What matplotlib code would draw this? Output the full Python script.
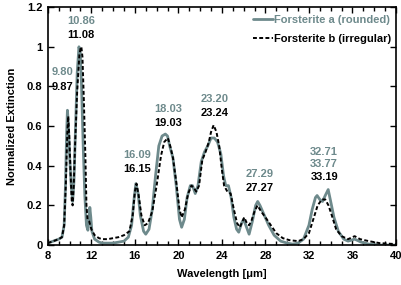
import matplotlib
matplotlib.use("Agg")
import matplotlib.pyplot as plt
from matplotlib.ticker import MultipleLocator

# Forsterite a (rounded)
wl_a = [8.0, 8.5, 9.0, 9.3, 9.5, 9.62, 9.72, 9.8, 9.88, 10.0, 10.15, 10.28, 10.4, 10.55, 10.7, 10.86,
        10.98, 11.1, 11.25, 11.4, 11.55, 11.68, 11.78, 11.86, 11.95, 12.05, 12.3, 12.7, 13.0, 14.0,
        14.5, 15.0, 15.4, 15.7, 15.9, 16.09, 16.3, 16.5, 16.8, 17.0, 17.3, 17.6, 17.9, 18.2, 18.5,
        18.8, 19.0, 19.2, 19.5, 19.8, 20.1, 20.3, 20.55, 20.8, 21.1, 21.3, 21.55, 21.8, 22.1, 22.4,
        22.7, 23.0, 23.3, 23.6, 23.9, 24.15, 24.35, 24.6, 24.85, 25.1, 25.35, 25.55, 25.8, 26.0,
        26.2, 26.5, 26.8, 27.1, 27.29, 27.5, 27.9, 28.3, 28.8, 29.4, 30.0, 30.5, 31.0, 31.5, 32.0,
        32.3, 32.6, 32.75, 33.0, 33.25, 33.5, 33.77, 34.0, 34.3, 34.7, 35.2, 35.6, 36.2, 36.8, 37.5,
        38.5, 40.0]
ext_a = [0.01, 0.02, 0.03, 0.04, 0.1, 0.3, 0.55, 0.68, 0.62, 0.45, 0.3, 0.22, 0.32, 0.6, 0.87, 1.0,
         0.97, 0.8, 0.5, 0.25, 0.1, 0.075, 0.12, 0.19, 0.14, 0.07, 0.03, 0.015, 0.01, 0.01,
         0.015, 0.02, 0.04, 0.1, 0.22, 0.31, 0.26, 0.15, 0.07, 0.055, 0.08, 0.18, 0.35, 0.5, 0.55,
         0.56, 0.55, 0.5, 0.44, 0.3, 0.13, 0.09, 0.13, 0.24, 0.3, 0.3, 0.26, 0.3, 0.42, 0.47,
         0.5, 0.54, 0.54, 0.52, 0.46, 0.35, 0.3, 0.3, 0.24, 0.14, 0.08, 0.065, 0.11, 0.13,
         0.1, 0.055, 0.12, 0.2, 0.22, 0.2, 0.15, 0.1, 0.05, 0.02, 0.01, 0.005, 0.01, 0.03, 0.1,
         0.18, 0.24, 0.25, 0.23, 0.22, 0.25, 0.28, 0.22, 0.14, 0.07, 0.03, 0.02, 0.03, 0.015, 0.005,
         0.0, 0.0]

# Forsterite b (irregular)
wl_b = [8.0, 8.5, 9.0, 9.3, 9.5, 9.65, 9.78, 9.87, 9.97, 10.1, 10.2, 10.28, 10.38, 10.5, 10.7, 10.9,
        11.0, 11.08, 11.18, 11.3, 11.45, 11.55, 11.65, 11.8, 12.0, 12.3, 12.7, 13.0, 13.5, 14.0,
        14.5, 15.0, 15.5, 15.8, 16.0, 16.15, 16.35, 16.6, 16.9, 17.2, 17.6, 18.0, 18.4, 18.7, 19.03,
        19.25, 19.5, 19.8, 20.1, 20.3, 20.6, 20.9, 21.2, 21.4, 21.65, 21.9, 22.2, 22.5, 22.8, 23.0,
        23.24, 23.5, 23.75, 24.0, 24.2, 24.5, 24.8, 25.1, 25.4, 25.65, 25.9, 26.05, 26.3, 26.5,
        26.7, 27.0, 27.27, 27.6, 28.0, 28.5, 29.0, 29.6, 30.2, 31.0, 31.5, 32.0, 32.4, 32.8, 33.19,
        33.5, 33.8, 34.1, 34.5, 35.0, 35.6, 36.2, 36.7, 37.5, 38.5, 40.0]
ext_b = [0.01, 0.02, 0.03, 0.04, 0.1, 0.3, 0.55, 0.65, 0.55, 0.35, 0.22, 0.2, 0.3, 0.5, 0.78, 0.96,
         0.99, 1.0, 0.95, 0.75, 0.45, 0.2, 0.13, 0.12, 0.08, 0.05, 0.035, 0.03, 0.03, 0.035,
         0.04, 0.05, 0.07, 0.15, 0.27, 0.31, 0.25, 0.15, 0.1, 0.11, 0.17, 0.3, 0.45, 0.52, 0.54,
         0.5, 0.44, 0.32, 0.18, 0.14, 0.18, 0.26, 0.3, 0.29, 0.27, 0.3, 0.43, 0.47, 0.52, 0.57,
         0.605, 0.57, 0.5, 0.38, 0.3, 0.27, 0.26, 0.18, 0.11, 0.09, 0.12, 0.14, 0.11, 0.1,
         0.12, 0.17, 0.2, 0.17, 0.14, 0.1, 0.06, 0.035, 0.025, 0.02, 0.03, 0.06, 0.13, 0.2, 0.23,
         0.23, 0.2, 0.15, 0.08, 0.045, 0.03, 0.045, 0.03, 0.02, 0.01, 0.005]

# peak annotations
peak_x = [11.04, 11.04, 9.38, 9.38, 19.04, 19.04, 23.36, 23.36, 16.19, 16.19, 27.46, 27.46, 33.4, 33.4, 33.4]
peak_y = [1.13, 1.058, 0.872, 0.797, 0.686, 0.615, 0.737, 0.666, 0.454, 0.383, 0.358, 0.287, 0.47, 0.408, 0.343]
peak_txt = ["10.86", "11.08", "9.80", "9.87", "18.03", "19.03", "23.20", "23.24", "16.09", "16.15",
            "27.29", "27.27", "32.71", "33.77", "33.19"]
peak_ser = ["a", "b", "a", "b", "a", "b", "a", "b", "a", "b", "a", "b", "a", "a", "b"]

xticks = [8, 12, 16, 20, 24, 28, 32, 36, 40]
yticks = [0, 0.2, 0.4, 0.6, 0.8, 1.0, 1.2]
ytick_labels = ["0", "0.2", "0.4", "0.6", "0.8", "1", "1.2"]

GRAY = "#6e8a8c"
FS = 8
plt.rcParams["font.family"] = ["Liberation Sans", "DejaVu Sans"]
plt.rcParams["font.weight"] = "bold"

fig = plt.figure(figsize=(4.02, 2.85), dpi=100)
ax = fig.add_axes([0.119, 0.140, 0.866, 0.835])

ax.plot(wl_a, ext_a, color=GRAY, lw=2.0, label="Forsterite a (rounded)",
        solid_joinstyle="round", solid_capstyle="round")
ax.plot(wl_b, ext_b, color="black", lw=1.4, ls=(0, (2, 1.2)), label="Forsterite b (irregular)")

cols = {"a": GRAY, "b": "black"}
for x, y, t, s in zip(peak_x, peak_y, peak_txt, peak_ser):
    ax.text(x, y, t, color=cols[s], fontsize=FS, fontweight="bold", ha="center", va="center")

ax.set_xlim(8, 40)
ax.set_ylim(0, 1.2)
ax.set_xticks(xticks)
ax.set_yticks(yticks)
ax.set_yticklabels(ytick_labels)
ax.xaxis.set_minor_locator(MultipleLocator(1))
ax.tick_params(axis="both", which="both", direction="in", top=True, right=True,
               labelsize=FS, width=1.0, pad=4)
ax.tick_params(which="major", length=4)
ax.tick_params(which="minor", length=3)
for sp in ax.spines.values():
    sp.set_linewidth(1.2)

ax.set_xlabel("Wavelength [\u03bcm]", fontsize=FS, fontweight="bold", labelpad=6)
ax.set_ylabel("Normalized Extinction", fontsize=FS, fontweight="bold", labelpad=7)

leg = ax.legend(loc="upper right", frameon=False, fontsize=FS, handlelength=1.8,
                handletextpad=0.1, labelspacing=0.8, borderaxespad=0.0, labelcolor="linecolor",
                bbox_to_anchor=(1.0, 0.985))

fig.savefig("out.png", dpi=100)
